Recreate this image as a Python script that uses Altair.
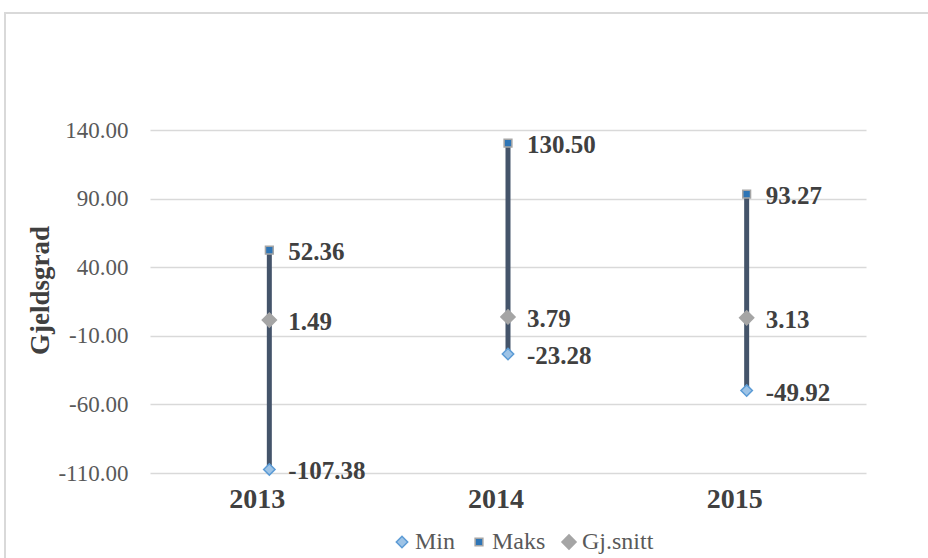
import altair as alt
import pandas as pd

years = ["2013", "2014", "2015"]
min_vals = [-107.38, -23.28, -49.92]
maks_vals = [52.36, 130.50, 93.27]
snitt_vals = [1.49, 3.79, 3.13]
series_names = ["Min", "Maks", "Gj.snitt"]
y_ticks = [-110, -60, -10, 40, 90, 140]

FONT = "Liberation Serif"
MINUS = "\u2212"

rng = pd.DataFrame({"year": years, "lo": min_vals, "hi": maks_vals})
rows = []
for name, vals in zip(series_names, [min_vals, maks_vals, snitt_vals]):
    for yr, v in zip(years, vals):
        rows.append({"year": yr, "series": name, "value": v})
pts = pd.DataFrame(rows)

x_enc = alt.X("year:N", title=None, sort=years,
              scale=alt.Scale(paddingInner=0, paddingOuter=0),
              axis=alt.Axis(labelAngle=0, labelFont=FONT, labelFontSize=28,
                            labelFontWeight="bold", labelColor="#404040",
                            labelPadding=12, labelOffset=-12, domain=False, ticks=False, grid=False))
y_scale = alt.Scale(domain=[-110, 140], nice=False, zero=False)

border = alt.Chart(pd.DataFrame({"a": [0]})).mark_rect(
    filled=False, stroke="#D9D9D9", strokeWidth=2
).encode(x=alt.value(-145), x2=alt.value(900), y=alt.value(-117), y2=alt.value(700))

axis_layer = alt.Chart(rng).mark_rule(opacity=0).encode(
    x=x_enc,
    y=alt.Y("lo:Q", scale=y_scale, title="Gjeldsgrad",
            axis=alt.Axis(values=y_ticks,
                          labelExpr="replace(format(datum.value, '.2f'), '" + MINUS + "', '-')",
                          labelFont=FONT, labelFontSize=23,
                          labelColor="#595959", labelPadding=22, domain=False, ticks=False,
                          gridColor="#D9D9D9", gridWidth=1.5,
                          titleFont=FONT, titleFontSize=27, titleFontWeight="bold",
                          titleColor="#404040", titleX=-110, titleY=160,
                          titleAngle=-90, titleAlign="center", titleBaseline="middle")),
)

rules = alt.Chart(rng).mark_rule(color="#44546A", strokeWidth=5).encode(
    x=alt.X("year:N", sort=years), y=alt.Y("lo:Q", scale=y_scale), y2="hi:Q"
)

legend = alt.Legend(labelFont=FONT, labelFontSize=24, labelColor="#595959")

points = alt.Chart(pts).mark_point(filled=True, opacity=1, strokeWidth=1.5).encode(
    x=alt.X("year:N", sort=years),
    y=alt.Y("value:Q", scale=y_scale),
    shape=alt.Shape("series:N", sort=series_names,
                    scale=alt.Scale(domain=series_names, range=["diamond", "square", "diamond"]),
                    title=None, legend=legend),
    fill=alt.Fill("series:N", sort=series_names,
                  scale=alt.Scale(domain=series_names, range=["#9DC3E6", "#2E75B6", "#A5A5A5"]),
                  title=None, legend=legend),
    stroke=alt.Stroke("series:N", sort=series_names,
                      scale=alt.Scale(domain=series_names, range=["#5B9BD5", "#A5A5A5", "#A5A5A5"]),
                      title=None, legend=legend),
    size=alt.Size("series:N", sort=series_names,
                  scale=alt.Scale(type="ordinal", domain=series_names, range=[130, 60, 200]),
                  title=None, legend=legend),
)

labels = alt.Chart(pts).transform_calculate(
    label="replace(format(datum.value, '.2f'), '" + MINUS + "', '-')"
).mark_text(
    align="left", baseline="middle", dx=19, dy=2, font=FONT, fontSize=25,
    fontWeight="bold", color="#404040"
).encode(
    x=alt.X("year:N", sort=years),
    y=alt.Y("value:Q", scale=y_scale),
    text=alt.Text("label:N"),
)

chart = alt.layer(border, axis_layer, rules, points, labels).properties(
    width=716, height=343,
    autosize=alt.AutoSizeParams(type="none"),
    padding={"left": 150, "top": 130, "right": 62, "bottom": 85},
    background="white",
).configure_view(stroke=None).configure_legend(
    orient="none", legendX=240, legendY=400, direction="horizontal",
    labelFont=FONT, labelFontSize=24, labelColor="#595959",
    columnPadding=11, symbolStrokeWidth=1.5, labelOffset=1,
)

chart.save("out.html", embed_options={"renderer": "svg", "actions": False})
